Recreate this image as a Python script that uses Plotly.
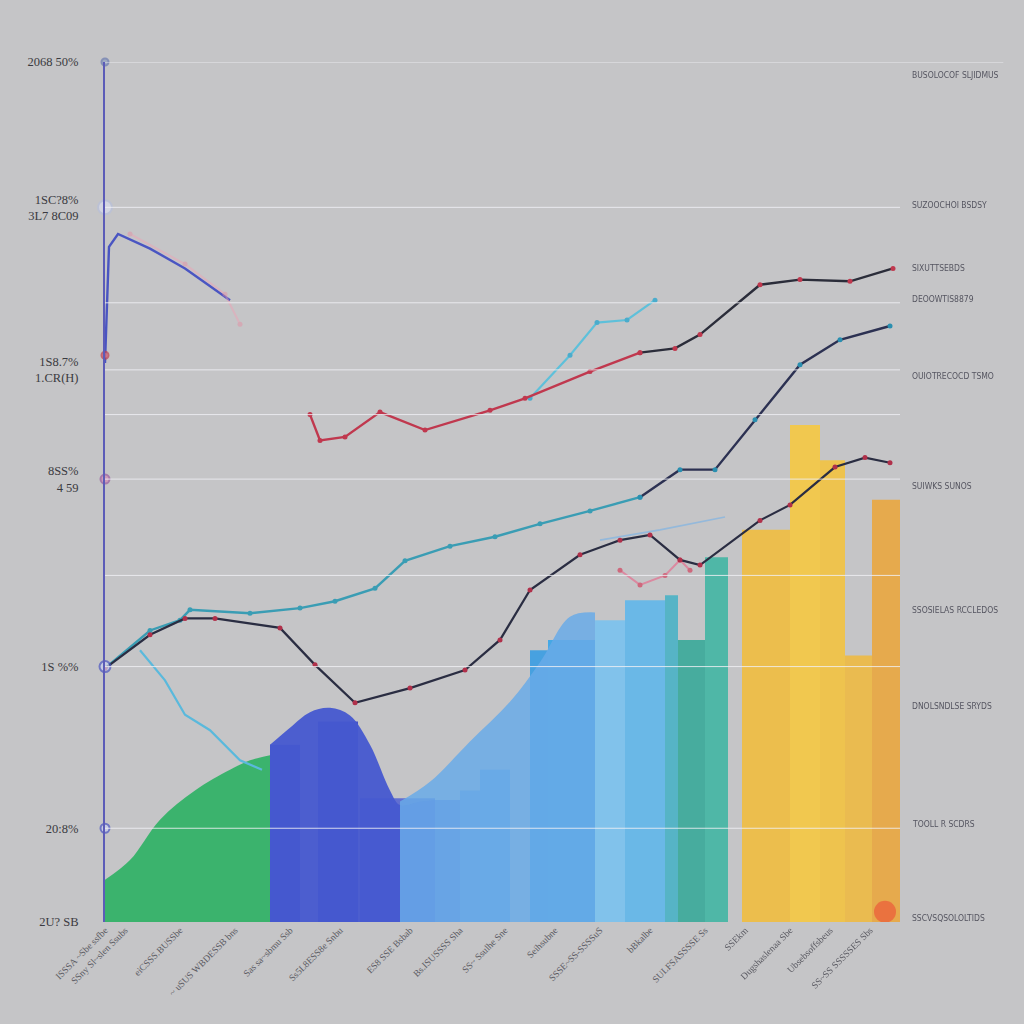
import plotly.graph_objects as go

# ---------------- data ----------------
# x axis: position units 0..795, y axis: share units 0..100
green_x = [0, 25, 55, 90, 125, 145, 165]
green_y = [4.9, 7.2, 11.9, 15.3, 17.7, 18.8, 19.4]

hump_x = [165, 185, 205, 225, 245, 265, 285, 295, 315, 330]
hump_y = [20.6, 22.6, 24.4, 24.9, 24.0, 20.6, 15.3, 13.6, 14.0, 14.2]

lightblue_x = [295, 325, 365, 405, 435, 465, 490]
lightblue_y = [14.0, 16.3, 21.0, 25.6, 30.2, 35.5, 36.0]

bar_left = [165, 213, 255, 330, 355, 375, 425, 443, 490, 520, 560, 573, 600, 637, 685, 715, 740, 767]
bar_right = [195, 253, 330, 355, 375, 405, 443, 490, 520, 560, 573, 600, 623, 685, 715, 740, 767, 795]
bar_top = [20.6, 23.3, 14.4, 14.2, 15.3, 17.7, 31.6, 32.8, 35.1, 37.4, 38.0, 32.8, 42.4, 45.6, 57.8, 53.7, 31.0, 49.1]

black_x = [0, 45, 80, 110, 175, 210, 250, 305, 360, 395, 425, 475, 515, 545, 575, 595, 655, 685, 730, 760, 785]
black_y = [29.5, 33.4, 35.3, 35.3, 34.2, 29.9, 25.5, 27.2, 29.3, 32.8, 38.6, 42.7, 44.4, 45.0, 42.1, 41.5, 46.7, 48.5, 52.9, 54.0, 53.4]

teal_x = [0, 45, 75, 85, 145, 195, 230, 270, 300, 345, 390, 435, 485, 535]
teal_y = [29.5, 33.9, 35.1, 36.3, 35.9, 36.5, 37.3, 38.8, 42.0, 43.7, 44.8, 46.3, 47.8, 49.4]
navy_x = [535, 575, 610, 650, 695, 735, 785]
navy_y = [49.4, 52.6, 52.6, 58.4, 64.8, 67.7, 69.3]

red_x = [205, 215, 240, 275, 320, 385, 420, 485, 535]
red_y = [59.0, 56.0, 56.4, 59.3, 57.2, 59.5, 60.9, 64.0, 66.2]
dark_x = [535, 570, 595, 655, 695, 745, 788]
dark_y = [66.2, 66.7, 68.3, 74.1, 74.7, 74.5, 76.0]

cyan_x = [425, 465, 492, 522, 550]
cyan_y = [60.9, 65.9, 69.7, 70.0, 72.3]

topblue_x = [0, 4, 13, 45, 80, 125]
topblue_y = [65.0, 78.5, 80.0, 78.3, 76.0, 72.3]
pink_top_x = [25, 80, 120, 135]
pink_top_y = [80.0, 76.5, 73.0, 69.5]

cyandown_x = [35, 60, 80, 105, 135, 157]
cyandown_y = [31.6, 28.1, 24.1, 22.3, 18.8, 17.7]

pink_x = [515, 535, 560, 575, 585]
pink_y = [40.9, 39.2, 40.3, 42.1, 40.9]

faint_x = [495, 555, 620]
faint_y = [44.4, 45.6, 47.1]

grid_vals = [100, 83.1, 72.0, 64.2, 59.0, 51.5, 40.3, 29.7, 10.9]
ytick_vals = [100, 83.1, 64.2, 51.5, 29.7, 10.9, 0]
ytick_text = ["2068 50%", "1SC?8%<br>3L7 8C09", "1S8.7%<br>1.CR(H)", "8SS%<br>4 59",
              "1S %%", "20:8%", "2U? SB"]
axis_dot_y = [100, 83.1, 65.9, 51.5, 29.7, 10.9]

xtick_vals = [0, 20, 75, 130, 185, 235, 305, 355, 400, 450, 495, 545, 600, 640, 685, 725, 765, 800]
xtick_text = ["ISSSA ~Sbe ssfbe", "SSny Sl~slen Ssubs", "eiCSSS.BUSSbe", "~ uSUS WBDESSB bns",
              "Sas sa~sbmu Ssb", "Ss5L8ESS8e Snbu", "ES8 SSE Bsbab", "Bs.ISUSSSS Sha",
              "SS~ Ssulhe Sne", "Seihsubne", "SSSE~SS-SSSSuS", "bBkalbe",
              "SULFSASSSSE Ss", "SSEkm", "Dugshaslenaa Sbe", "Ubsebsoffsbeus",
              "SS~SS SSSSSES Sbs", "Godsbuseo"]

right_y = [98.5, 83.4, 76.0, 72.4, 63.5, 50.7, 36.3, 25.1, 11.4, 0.5]
right_text = ["BUSOLOCOF SLJIDMUS", "SUZOOCHOI BSDSY", "SIXUTTSEBDS", "DEOOWTIS8879",
              "OUIOTRECOCD TSMO", "SUIWKS SUNOS", "SSOSIELAS RCCLEDOS", "DNOLSNDLSE SRYDS",
              "TOOLL R SCDRS", "SSCVSQSOLOLTIDS"]

# ---------------- styles ----------------
bar_colors = ["#3d45bd", "#3a47c6", "#5a68d2", "#5f78d8", "#6da0df", "#67a6e2",
              "#3d9fe2", "#3aa6e8", "#7cc2ee", "#63b8ea", "#4db3c6", "#3daa9a",
              "#45b6a4", "#f0be42", "#f6c944", "#f2c443", "#eebb45", "#eaa842"]

fig = go.Figure()

fig.add_trace(go.Scatter(x=green_x, y=green_y, mode="lines", fill="tozeroy",
                         line=dict(color="rgba(0,0,0,0)", shape="spline"),
                         fillcolor="rgba(52,178,104,0.95)", hoverinfo="skip"))
fig.add_trace(go.Scatter(x=hump_x, y=hump_y, mode="lines", fill="tozeroy",
                         line=dict(color="rgba(0,0,0,0)", shape="spline"),
                         fillcolor="rgba(70,88,208,0.95)", hoverinfo="skip"))
fig.add_trace(go.Scatter(x=lightblue_x, y=lightblue_y, mode="lines", fill="tozeroy",
                         line=dict(color="rgba(0,0,0,0)", shape="spline"),
                         fillcolor="rgba(105,170,232,0.85)", hoverinfo="skip"))

centers = [(a + b) / 2 for a, b in zip(bar_left, bar_right)]
widths = [b - a for a, b in zip(bar_left, bar_right)]
fig.add_trace(go.Bar(x=centers, y=bar_top, width=widths,
                     marker=dict(color=bar_colors, line=dict(width=0)), opacity=0.92))

fig.add_trace(go.Scatter(x=[780], y=[1.2], mode="markers",
                         marker=dict(size=22, color="rgba(235,100,60,0.8)")))

def line(x, y, color, width=2.2, marker_color=None, opacity=1.0, msize=5):
    fig.add_trace(go.Scatter(
        x=x, y=y, mode="lines+markers" if marker_color else "lines",
        line=dict(color=color, width=width), opacity=opacity,
        marker=dict(size=msize, color=marker_color or color)))

line(cyandown_x, cyandown_y, "#5ab9dc", 2.2)
line(faint_x, faint_y, "#80b4e4", 1.6, opacity=0.7)
line(pink_x, pink_y, "#e07a96", 2, "#d0506a", opacity=0.8)
line(topblue_x, topblue_y, "#4a55c2", 2.4)
line(pink_top_x, pink_top_y, "#f2a0b4", 2, "#e88aa0", opacity=0.45)
line(teal_x, teal_y, "#3a9db4", 2.4, "#3a9db4")
line(navy_x, navy_y, "#2c3152", 2.4, "#2a8fb0")
line(black_x, black_y, "#2a2d42", 2.2, "#b0304a")
line(cyan_x, cyan_y, "#5ec0da", 2.2, "#4aaccc")
line(red_x, red_y, "#c0384e", 2.4, "#c0384e")
line(dark_x, dark_y, "#2b2d3a", 2.4, "#c0384e")

# dots sitting on the left axis
fig.add_trace(go.Scatter(x=[0] * len(axis_dot_y), y=axis_dot_y, mode="markers", cliponaxis=False,
                         marker=dict(size=[7, 14, 7, 9, 11, 9],
                                     color=["#8fa0c0", "#d8dcec", "#e06a70", "#d08ab4", "#c8cff0", "#c8cff0"],
                                     line=dict(width=2, color=["#6a7ab0", "#b8c0dc", "#c04050", "#9a5aa0", "#4a55c2", "#4a55c2"]))))

shapes = []
for gv in grid_vals:
    shapes.append(dict(type="line", xref="paper", yref="y", x0=0, x1=1.0 if gv != 100 else 1.13,
                       y0=gv, y1=gv, line=dict(color="rgba(240,240,244,0.85)", width=1)))
fig.update_layout(shapes=shapes)

for ry, rt in zip(right_y, right_text):
    fig.add_annotation(x=1.012, y=ry, xref="paper", yref="y", text=rt, showarrow=False,
                       xanchor="left", yanchor="middle",
                       font=dict(family="DejaVu Sans Condensed, Liberation Sans Narrow, Roboto Condensed, Liberation Sans",
                                 size=8.5, color="#555560"))

fig.update_layout(
    width=1024, height=1024,
    margin=dict(l=105, r=124, t=62, b=102),
    paper_bgcolor="#c5c5c7", plot_bgcolor="#c5c5c7",
    showlegend=False, barmode="overlay",
    font=dict(family="Liberation Serif, DejaVu Serif", color="#3a3a40"),
    xaxis=dict(range=[0, 795], showgrid=False, zeroline=False, showline=False,
               tickvals=xtick_vals, ticktext=xtick_text, tickangle=-45,
               tickfont=dict(size=9.5, color="#5a5a62"), ticks=""),
    yaxis=dict(range=[0, 100], showgrid=False, zeroline=False,
               showline=True, linecolor="#5c5cb8", linewidth=2,
               tickvals=ytick_vals, ticktext=ytick_text, ticks="",
               ticklabelstandoff=22,
               tickfont=dict(size=12.5, color="#3a3a40")),
)

fig.write_html("out.html", config={"displayModeBar": False},
               post_script="document.body.style.margin='0';document.body.style.background='#c5c5c7';")
